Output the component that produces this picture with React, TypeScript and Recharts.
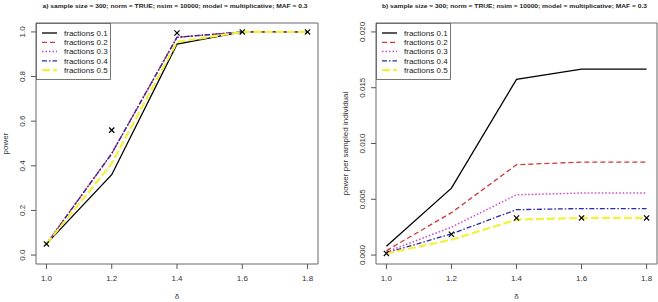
import React from 'react';
import { LineChart, Line, XAxis, YAxis, ReferenceArea } from 'recharts';

// delta values on the x axis
const deltas = [1.0, 1.2, 1.4, 1.6, 1.8];
const deltaTicks = [1.0, 1.2, 1.4, 1.6, 1.8];
const fractionNames = ['fractions 0.1', 'fractions 0.2', 'fractions 0.3', 'fractions 0.4', 'fractions 0.5'];

// panel a) power
const powerF1 = [0.05, 0.36, 0.945, 1.0, 1.0];
const powerF2 = [0.05, 0.455, 0.976, 1.0, 1.0];
const powerF3 = [0.05, 0.455, 0.976, 1.0, 1.0];
const powerF4 = [0.05, 0.455, 0.976, 1.0, 1.0];
const powerF5 = [0.05, 0.41, 0.955, 1.0, 1.0];
const powerFull = [0.05, 0.56, 0.995, 1.0, 1.0];
const powerTicks = [0.0, 0.2, 0.4, 0.6, 0.8, 1.0];

// panel b) power per sampled individual
const perIndF1 = [0.0008, 0.006, 0.01575, 0.01667, 0.01667];
const perIndF2 = [0.0004, 0.0038, 0.0081, 0.00833, 0.00833];
const perIndF3 = [0.00028, 0.0025, 0.0054, 0.00556, 0.00556];
const perIndF4 = [0.0002, 0.0019, 0.00407, 0.00417, 0.00417];
const perIndF5 = [0.00015, 0.00137, 0.00318, 0.00333, 0.00333];
const perIndFull = [0.00015, 0.00187, 0.00332, 0.00333, 0.00333];
const perIndTicks = [0.0, 0.005, 0.01, 0.015, 0.02];

const colors = ['#000000', '#d03a3a', '#d048d0', '#2a2aa8', '#f2f23c'];
const dashes = ['', '5 3', '1.5 2', '5 2 1.5 2', '8 3'];
const widths = [1.3, 1.3, 1.5, 1.3, 2.2];

const FONT = '"Liberation Sans", Arial, Helvetica, sans-serif';
const W = 329;
const H = 302;

const Cross = (props: any) => {
  const { cx, cy } = props;
  if (cx == null || cy == null) return null;
  const s = 2.6;
  return (
    <g stroke="#000" strokeWidth={1.2}>
      <line x1={cx - s} y1={cy - s} x2={cx + s} y2={cy + s} />
      <line x1={cx - s} y1={cy + s} x2={cx + s} y2={cy - s} />
    </g>
  );
};

const makeYTick = (fmt: (v: number) => string) => (props: any) => {
  const { x, y, payload } = props;
  const bx = x - 3.7;
  return (
    <text x={bx} y={y} transform={`rotate(-90, ${bx}, ${y})`} textAnchor="middle" fontSize={8} fill="#333" fontFamily={FONT}>
      {fmt(payload.value)}
    </text>
  );
};

const XTick = (props: any) => {
  const { x, y, payload } = props;
  return (
    <text x={x} y={y + 10} textAnchor="middle" fontSize={8} fill="#333" fontFamily={FONT}>
      {payload.value.toFixed(1)}
    </text>
  );
};

// legend box drawn in the overlay, top-left corner of the plot region
const LegendBox = ({ x, y, lineX }: { x: number; y: number; lineX: number }) => (
  <g transform={`translate(${x}, ${y})`}>
    <rect x={0.5} y={0.5} width={74} height={56} fill="#fff" stroke="#555" strokeWidth={0.8} />
    {fractionNames.map((name, i) => (
      <g key={name}>
        <line x1={lineX} x2={lineX + 15} y1={10 + i * 9.3} y2={10 + i * 9.3} stroke={colors[i]}
          strokeWidth={widths[i]} strokeDasharray={dashes[i] || undefined} />
        <text x={lineX + 22} y={12.8 + i * 9.3} fontSize={8} fill="#222" fontFamily={FONT}>{name}</text>
      </g>
    ))}
  </g>
);

interface PanelProps {
  title: string;
  yLabel: string;
  series: number[][];
  full: number[];
  yDomain: [number, number];
  yTicks: number[];
  fmt: (v: number) => string;
  left: number;
  right: number;
  yLabelX: number;
  legendLineX: number;
}

const Panel: React.FC<PanelProps> = ({ title, yLabel, series, full, yDomain, yTicks, fmt, left, right, yLabelX, legendLineX }) => {
  const data = deltas.map((d, i) => {
    const row: any = { delta: d, full: full[i] };
    series.forEach((s, k) => { row['f' + k] = s[i]; });
    return row;
  });
  const plotCenter = left + (W - left - right) / 2;
  return (
    <div style={{ position: 'relative', width: W, height: H }}>
      <LineChart width={W} height={H} data={data} margin={{ top: 23, right, bottom: 8, left: left - 30 }}>
        <XAxis dataKey="delta" type="number" domain={[0.968, 1.832]} ticks={deltaTicks} allowDataOverflow
          axisLine={false} tickSize={5} tickMargin={2} height={30} tickLine={{ stroke: '#555' }} tick={<XTick />} />
        <YAxis type="number" domain={yDomain} ticks={yTicks} allowDataOverflow width={30}
          axisLine={false} tickSize={5} tickMargin={2} tickLine={{ stroke: '#555' }} tick={makeYTick(fmt)} />
        <ReferenceArea x1={0.968} x2={1.832} y1={yDomain[0]} y2={yDomain[1]} fill="none" stroke="#666" strokeWidth={1} />
        {series.map((_, k) => (
          <Line key={k} dataKey={'f' + k} name={fractionNames[k]} stroke={colors[k]} strokeWidth={widths[k]}
            strokeDasharray={dashes[k] || undefined} dot={false} activeDot={false} isAnimationActive={false} />
        ))}
        <Line dataKey="full" stroke="none" dot={<Cross />} activeDot={false} legendType="none" isAnimationActive={false} />
      </LineChart>
      <svg width={W} height={H} style={{ position: 'absolute', left: 0, top: 0, pointerEvents: 'none' }}>
        <text x={plotCenter - 2} y={7.5} textAnchor="middle" fontSize={6.2} fontWeight="bold" fill="#222"
          fontFamily={FONT} textLength={265} lengthAdjust="spacingAndGlyphs">{title}</text>
        <text x={yLabelX} y={143.5} transform={`rotate(-90, ${yLabelX}, 143.5)`} textAnchor="middle" fontSize={8}
          fill="#333" fontFamily={FONT}>{yLabel}</text>
        <text x={plotCenter} y={299} textAnchor="middle" fontSize={8} fill="#333" fontFamily={FONT}>δ</text>
        <LegendBox x={left} y={23} lineX={legendLineX} />
      </svg>
    </div>
  );
};

export default function App() {
  return (
    <div style={{ position: 'fixed', left: 0, top: 0, width: 658, height: 302, background: '#fff', display: 'flex' }}>
      <Panel
        title="a) sample size = 300; norm = TRUE; nsim = 10000; model = multiplicative; MAF = 0.3"
        yLabel="power"
        series={[powerF1, powerF2, powerF3, powerF4, powerF5]}
        full={powerFull}
        yDomain={[-0.04, 1.04]}
        yTicks={powerTicks}
        fmt={(v) => v.toFixed(1)}
        left={36}
        right={11}
        yLabelX={8}
        legendLineX={6}
      />
      <Panel
        title="b) sample size = 300; norm = TRUE; nsim = 10000; model = multiplicative; MAF = 0.3"
        yLabel="power per sampled individual"
        series={[perIndF1, perIndF2, perIndF3, perIndF4, perIndF5]}
        full={perIndFull}
        yDomain={[-0.0008, 0.0208]}
        yTicks={perIndTicks}
        fmt={(v) => v.toFixed(3)}
        left={47}
        right={1}
        yLabelX={19}
        legendLineX={6}
      />
    </div>
  );
}
